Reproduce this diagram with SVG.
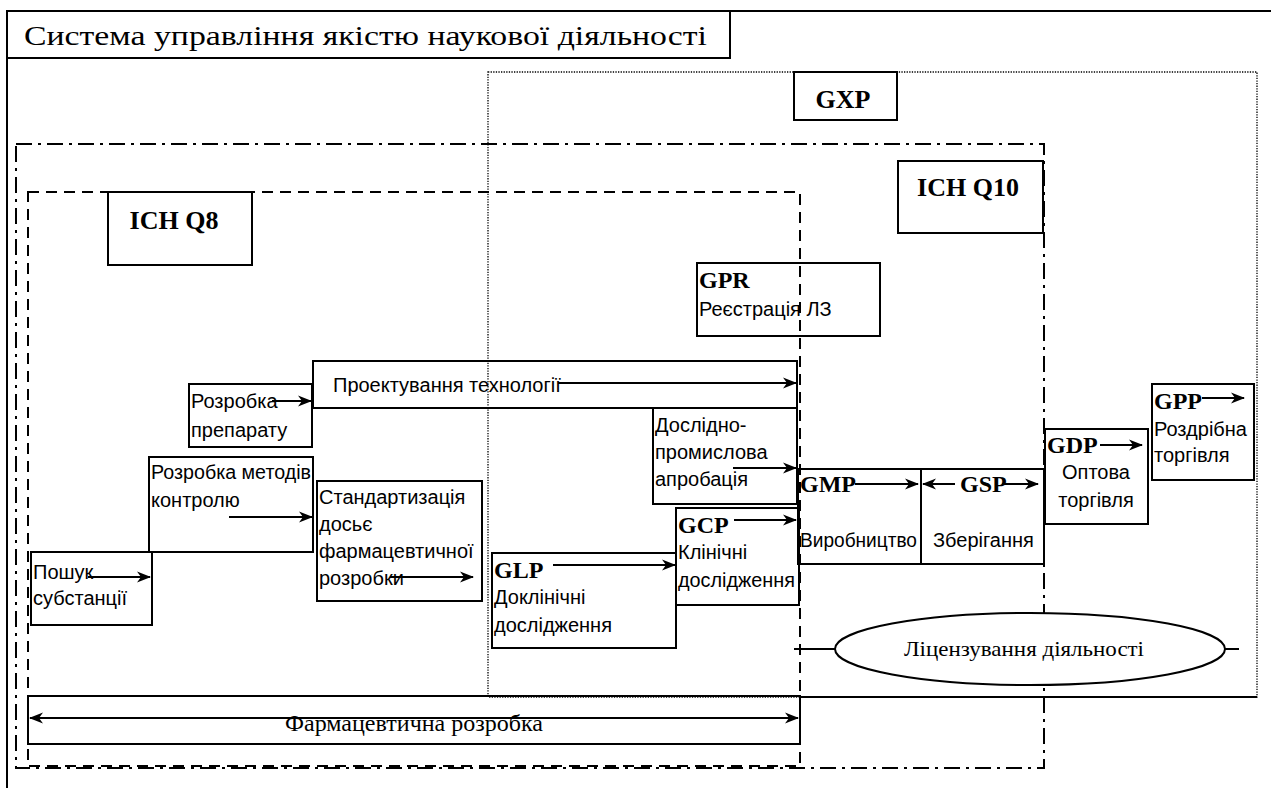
<svg xmlns="http://www.w3.org/2000/svg" width="1271" height="788" viewBox="0 0 1271 788">
<style>
.bx{fill:none;stroke:#000;stroke-width:2}
.ln{fill:none;stroke:#000;stroke-width:2}
.dd{fill:none;stroke:#000;stroke-width:2;stroke-dasharray:16 6 3 6}
.da{fill:none;stroke:#000;stroke-width:2;stroke-dasharray:11 7}
.dt{fill:none;stroke:#000;stroke-width:1.3;stroke-dasharray:1.3 1.3}
.ar{font-family:"Liberation Sans",Arial,sans-serif;font-size:20px;fill:#000}
.tb{font-family:"Liberation Serif","Times New Roman",serif;font-weight:bold;font-size:24px;fill:#000}
.tl{font-family:"Liberation Serif","Times New Roman",serif;font-weight:bold;font-size:26px;fill:#000}
.tr{font-family:"Liberation Serif","Times New Roman",serif;font-weight:normal;fill:#000}
.c{stroke:#000;stroke-width:2;fill:none;marker-end:url(#ah)}
</style>
<defs>
<marker id="ah" markerUnits="userSpaceOnUse" markerWidth="16" markerHeight="14" refX="13" refY="7" orient="auto-start-reverse">
<path d="M0,1.5 L14,7 L0,12.5 L4,7 z" fill="#000"/>
</marker>
</defs>
<rect width="1271" height="788" fill="#fff"/>

<g id="frame">
<line x1="7" y1="11" x2="1271" y2="11" class="ln"/>
<line x1="7" y1="10" x2="7" y2="788" class="ln"/>
<polyline points="7,58 730,58 730,11" class="ln"/>
<text x="24" y="45" class="tr" style="font-size:28px" textLength="683" lengthAdjust="spacingAndGlyphs">Система управління якістю наукової діяльності</text>
</g>

<g id="gxp-area">
<rect x="488" y="72" width="769" height="625" class="dt"/>
<line x1="800" y1="697" x2="1257" y2="697" class="ln"/>
</g>
<g id="ichq10-area">
<rect x="16" y="144" width="1028" height="624" class="dd"/>
</g>
<g id="ichq8-area">
<rect x="28" y="192" width="772" height="574" class="da"/>
</g>

<g id="gxp-label">
<rect x="794" y="72" width="103" height="48" class="bx"/>
<text x="843" y="108" class="tl" text-anchor="middle">GXP</text>
</g>
<g id="ichq10-label">
<rect x="898" y="161" width="145" height="72" class="bx"/>
<text x="968" y="196" class="tl" text-anchor="middle">ICH Q10</text>
</g>
<g id="ichq8-label">
<rect x="108" y="192" width="144" height="73" class="bx"/>
<text x="174" y="229" class="tl" text-anchor="middle">ICH Q8</text>
</g>

<g id="gpr">
<rect x="697" y="263" width="183" height="73" class="bx"/>
<text x="699" y="288" class="tb">GPR</text>
<text x="699" y="316" class="ar">Реєстрація ЛЗ</text>
</g>

<g id="rozrobka-preparatu">
<rect x="189" y="384" width="123" height="63" class="bx"/>
<text x="191" y="408" class="ar">Розробка</text>
<text x="191" y="437" class="ar">препарату</text>
</g>

<g id="proektuvannia">
<rect x="313" y="361" width="484" height="47" class="bx"/>
<text x="333" y="392" class="ar">Проектування технології</text>
</g>

<g id="rozrobka-metodiv">
<rect x="149" y="457" width="164" height="95" class="bx"/>
<text x="151" y="479" class="ar" textLength="160" lengthAdjust="spacingAndGlyphs">Розробка методів</text>
<text x="151" y="507" class="ar">контролю</text>
</g>

<g id="standartyzatsiia">
<rect x="317" y="481" width="165" height="120" class="bx"/>
<text x="319" y="504" class="ar">Стандартизація</text>
<text x="319" y="531" class="ar">досьє</text>
<text x="319" y="558" class="ar">фармацевтичної</text>
<text x="319" y="585" class="ar">розробки</text>
</g>

<g id="poshuk">
<rect x="31" y="552" width="121" height="73" class="bx"/>
<text x="33" y="579" class="ar">Пошук</text>
<text x="33" y="605" class="ar">субстанції</text>
</g>

<g id="doslidno">
<rect x="653" y="408" width="144" height="96" class="bx"/>
<text x="655" y="432" class="ar">Дослідно-</text>
<text x="655" y="459" class="ar">промислова</text>
<text x="655" y="486" class="ar">апробація</text>
</g>

<g id="glp">
<rect x="492" y="553" width="184" height="95" class="bx"/>
<text x="494" y="578" class="tb">GLP</text>
<text x="494" y="604" class="ar">Доклінічні</text>
<text x="494" y="632" class="ar">дослідження</text>
</g>

<g id="gcp">
<rect x="676" y="508" width="123" height="97" class="bx"/>
<text x="678" y="533" class="tb">GCP</text>
<text x="678" y="559" class="ar">Клінічні</text>
<text x="678" y="587" class="ar" textLength="117" lengthAdjust="spacingAndGlyphs">дослідження</text>
</g>

<g id="gmp">
<rect x="798" y="469" width="123" height="95" class="bx"/>
<text x="800" y="492" class="tb">GMP</text>
<text x="800" y="547" class="ar" textLength="117" lengthAdjust="spacingAndGlyphs">Виробництво</text>
</g>

<g id="gsp">
<rect x="921" y="469" width="123" height="95" class="bx"/>
<text x="960" y="492" class="tb">GSP</text>
<text x="933" y="547" class="ar">Зберігання</text>
</g>

<g id="gdp">
<rect x="1045" y="429" width="103" height="95" class="bx"/>
<text x="1047" y="453" class="tb">GDP</text>
<text x="1096" y="479" class="ar" text-anchor="middle">Оптова</text>
<text x="1096" y="507" class="ar" text-anchor="middle">торгівля</text>
</g>

<g id="gpp">
<rect x="1152" y="384" width="102" height="96" class="bx"/>
<text x="1154" y="409" class="tb">GPP</text>
<text x="1154" y="436" class="ar">Роздрібна</text>
<text x="1154" y="462" class="ar">торгівля</text>
</g>

<g id="licenzuvannia">
<line x1="794" y1="649" x2="835" y2="649" class="ln"/>
<line x1="1217" y1="649" x2="1239" y2="649" class="ln"/>
<ellipse cx="1030" cy="649" rx="195" ry="36" fill="#fff" stroke="#000" stroke-width="2"/>
<text x="1024" y="656" class="tr" style="font-size:22px" text-anchor="middle" textLength="240" lengthAdjust="spacingAndGlyphs">Ліцензування діяльності</text>
</g>

<g id="farm-rozrobka">
<rect x="28" y="696" width="772" height="48" class="bx"/>
<text x="414" y="731" class="tr" style="font-size:24px" text-anchor="middle" textLength="258" lengthAdjust="spacingAndGlyphs">Фармацевтична розробка</text>
</g>

<g id="connectors">
<line x1="272" y1="401" x2="311" y2="401" class="c"/>
<line x1="558" y1="383" x2="796" y2="383" class="c"/>
<line x1="229" y1="517" x2="312" y2="517" class="c"/>
<line x1="88" y1="577" x2="150" y2="577" class="c"/>
<line x1="390" y1="577" x2="473" y2="577" class="c"/>
<line x1="733" y1="468" x2="796" y2="468" class="c"/>
<line x1="553" y1="565" x2="675" y2="565" class="c"/>
<line x1="734" y1="520" x2="796" y2="520" class="c"/>
<line x1="855" y1="484" x2="918" y2="484" class="c"/>
<line x1="955" y1="484" x2="923" y2="484" class="c"/>
<line x1="1002" y1="484" x2="1038" y2="484" class="c"/>
<line x1="1100" y1="445" x2="1142" y2="445" class="c"/>
<line x1="1202" y1="398" x2="1244" y2="398" class="c"/>
<line x1="30" y1="718" x2="798" y2="718" class="c" marker-start="url(#ah)"/>
</g>
</svg>
